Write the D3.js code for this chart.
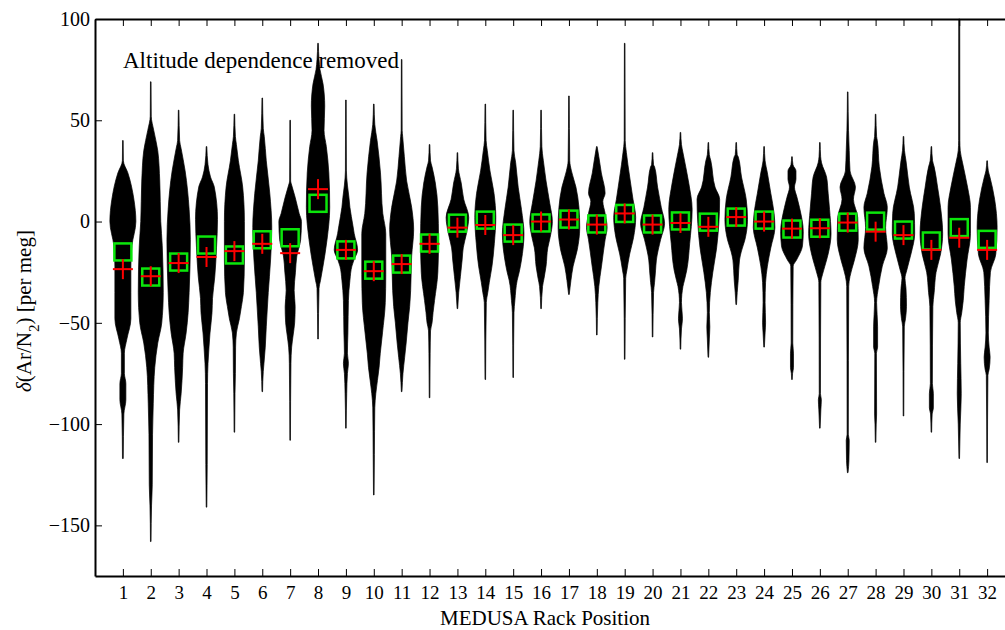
<!DOCTYPE html>
<html><head><meta charset="utf-8">
<script src="https://cdn.jsdelivr.net/npm/d3@7"></script>
<style>
body{margin:0;background:#fff}
svg{display:block}
text{font-family:"Liberation Serif","Times New Roman",serif;fill:#000}
</style>
</head><body>
<svg id="chart" width="1005" height="630"></svg>
<script>
// ---- data ----
const rackPositions = d3.range(1, 33);
const yTicks = [-150, -100, -50, 0, 50, 100];
const medians = [-15, -27.4, -20, -11.6, -16.5, -9, -8, 9, -14, -24, -21, -10.6, -0.8, 0.7, -5.7, -0.7,
                 1.2, -1.2, 4, -1.2, 0.3, -0.3, 2.2, 0.7, -3.7, -3.3, -0.3, 0.2, -4.2, -9.6, -3, -8.8];
const means = [-23.5, -27, -20.5, -17.5, -14.6, -11, -15.6, 16, -14, -24.5, -21, -11, -3, -1.7, -6.7, 0,
               1, -1.5, 4, -1.5, -0.7, -2.6, 2.2, 0, -3.5, -3.3, -0.5, -5, -6.7, -14, -8, -14];
// violin profiles: [value, relative density]
const violins = [
 [[40,0.3],[30,0.5],[24,5],[11,11],[0,13],[-12,9],[-22,8],[-35,8],[-48,8],[-58,4],[-65,1.5],[-75,1.5],[-80,3],[-88,3],[-95,1],[-117,0.4]],
 [[69,0.3],[52,0.5],[45,3],[35,7],[20,9],[0,10],[-12,11.5],[-35,12.5],[-50,11],[-60,7],[-72,4],[-90,2.5],[-105,1.8],[-130,1.5],[-140,0.8],[-158,0.3]],
 [[55,0.3],[40,1],[36,2.5],[25,6.5],[6,10.5],[-9,11.7],[-35,10.5],[-45,9.5],[-55,7.5],[-65,4.5],[-72,4],[-85,2.5],[-93,1],[-109,0.3]],
 [[37,0.3],[28,1.5],[22,4],[17,7.8],[1,11],[-13,10],[-27,8.3],[-38,6],[-45,5.5],[-55,3.5],[-62,2.5],[-70,1.5],[-80,1],[-120,0.7],[-141,0.3]],
 [[53,0.3],[42,1],[38,2],[30,4],[17,8.3],[0,10],[-19,10],[-35,9],[-42,7],[-48,5],[-55,2],[-62,1.2],[-75,1],[-85,0.6],[-104,0.3]],
 [[61,0.3],[46,1],[42,2],[30,4],[14,7.5],[-3,9.5],[-19,8.3],[-35,6],[-52,4],[-62,3],[-70,1.7],[-74,1],[-84,0.3]],
 [[50,0.3],[20,0.5],[18,1.5],[12,5],[4,9],[0,11.3],[-9,10.5],[-17,6.7],[-25,5.3],[-34,4],[-42,5],[-50,4.5],[-56,3],[-62,1.5],[-70,0.8],[-108,0.3]],
 [[88,0.3],[80,1],[75,2],[68,5],[57,6.7],[45,6],[37,8.3],[24,10.8],[7,11.7],[-9,9],[-16,7],[-22,5],[-29,2.5],[-33,1],[-58,0.3]],
 [[60,0.3],[25,0.5],[18,1.5],[12,3],[7,4],[-2,7],[-6,8.3],[-14,11.7],[-19,8],[-22,6],[-29,4],[-39,2.5],[-55,2],[-65,1.5],[-70,2.5],[-75,1.5],[-85,0.8],[-102,0.3]],
 [[58,0.3],[48,1],[40,3.3],[24,6.7],[4,9],[-6,12],[-26,12],[-40,11.5],[-55,8.7],[-65,6.5],[-72,5.3],[-85,2],[-92,1],[-115,0.6],[-135,0.3]],
 [[80,0.3],[45,0.5],[42,1],[32,2.7],[20,5],[7,10],[-4,12],[-17,10],[-34,9],[-42,8],[-50,6.3],[-60,4.5],[-67,3],[-75,1.3],[-84,0.3]],
 [[38,0.3],[30,1],[27,2.5],[19,5.8],[7,8.3],[-9,9],[-25,8.3],[-39,5],[-45,3.5],[-50,2.5],[-54,1],[-65,0.6],[-87,0.3]],
 [[34,0.3],[26,1],[19,3.8],[11,6.3],[2,11.3],[-6,9],[-13,5.8],[-19,4.7],[-27,3],[-35,1.3],[-43,0.3]],
 [[58,0.3],[40,0.8],[35,2],[25,4.7],[14,8.7],[2,10.5],[-11,9],[-22,6.7],[-30,4],[-35,2.5],[-40,1],[-78,0.3]],
 [[55,0.3],[35,0.8],[29,2.5],[17,5],[6,8.3],[-6,10.8],[-19,8.3],[-25,6],[-29,4],[-39,1.7],[-45,0.8],[-77,0.3]],
 [[55,0.3],[37,0.8],[30,2.3],[20,5],[9,8.7],[0,11.3],[-8,9],[-13,6.7],[-22,5],[-28,3],[-32,1.5],[-43,0.3]],
 [[62,0.3],[30,0.8],[25,2.5],[17,7],[7,10],[-3,10.8],[-14,8.3],[-22,4.2],[-29,2],[-36,0.3]],
 [[37,0.3],[32,2],[24,4.5],[14,8.3],[10,6],[4,8.3],[-3,10.3],[-9,8.3],[-22,4.7],[-32,2],[-40,1],[-56,0.3]],
 [[88,0.3],[40,0.5],[34,1.7],[22,5],[11,8.3],[2,11],[-8,8.8],[-16,5],[-24,2.2],[-28,1],[-68,0.3]],
 [[34,0.3],[28,1],[27,2],[17,5],[7,8.7],[-1,12],[-9,8],[-19,3.8],[-24,3],[-30,2],[-35,1],[-57,0.3]],
 [[44,0.3],[38,1],[34,2.5],[19,8.3],[6,11.7],[-11,9.2],[-24,6.3],[-29,4],[-32,2.5],[-40,1],[-48,2],[-53,1],[-63,0.3]],
 [[39,0.3],[33,1],[30,2.5],[17,6.7],[11,11.3],[-1,10.5],[-13,8.3],[-25,4.5],[-35,2],[-45,1],[-52,1.5],[-58,1],[-67,0.3]],
 [[39,0.3],[33,1],[32,2],[22,5.3],[11,10],[1,11.3],[-9,8.7],[-15,5],[-19,3.3],[-29,2],[-35,1],[-41,0.3]],
 [[37,0.3],[30,1],[24,3.3],[14,6.7],[4,10],[-3,10.8],[-13,6.7],[-22,3.3],[-30,1.5],[-40,1],[-50,1.5],[-55,1],[-62,0.3]],
 [[32,0.3],[28,1],[25,4],[21,4],[17,2.5],[12,5],[7,7.5],[-5,11.3],[-12,10.5],[-19,4.5],[-22,1.2],[-60,0.8],[-65,1.5],[-72,1.5],[-75,0.6],[-78,0.3]],
 [[39,0.3],[32,0.8],[29,1.7],[22,6.7],[14,8.3],[6,9.7],[-6,11.2],[-16,8.3],[-22,5],[-26,2.7],[-30,1],[-85,0.6],[-88,1.5],[-93,1],[-102,0.3]],
 [[64,0.3],[45,0.8],[35,1.5],[25,2.3],[17,7.7],[11,5.7],[2,10],[-9,10.5],[-19,6.7],[-27,2.3],[-32,1],[-105,0.6],[-108,1.5],[-118,1.2],[-124,0.3]],
 [[53,0.3],[42,1],[40,1.7],[27,3.7],[14,8.3],[7,11.7],[-3,10],[-13,11.7],[-22,6.7],[-32,3],[-40,1],[-52,2],[-62,2],[-65,0.8],[-95,1],[-100,0.6],[-109,0.3]],
 [[42,0.3],[35,1],[30,2.5],[17,5.8],[4,10.8],[-6,11.2],[-16,7.5],[-24,3.3],[-28,1.5],[-33,2.5],[-42,3],[-48,2],[-52,0.8],[-96,0.3]],
 [[37,0.3],[30,1.2],[27,2.8],[17,6.2],[7,9.2],[-6,11.3],[-16,9.2],[-25,4.7],[-35,2.8],[-42,1.5],[-80,1],[-85,2],[-92,2],[-95,0.8],[-104,0.3]],
 [[100,0.5],[40,0.6],[35,1],[29,3.3],[17,8.3],[7,11.2],[-6,11.2],[-19,7.8],[-32,5],[-39,4],[-45,2.5],[-50,1],[-70,1.5],[-85,2],[-100,1],[-117,0.3]],
 [[30,0.3],[25,1.2],[22,2.8],[11,7.5],[-3,10],[-16,8.7],[-25,3.3],[-39,2],[-55,1.2],[-62,2],[-67,3],[-73,2],[-76,0.8],[-119,0.3]]
];
const annotation = "Altitude dependence removed";
const xTitle = "MEDUSA Rack Position";

// ---- layout ----
const svg = d3.select("#chart");
const mLeft = 95, mTop = 19, mBottom = 576, mRight = 1015;
const x = d3.scaleLinear().domain([0, 33]).range([mLeft, mRight]);
const y = d3.scaleLinear().domain([-175, 100]).range([mBottom, mTop]);
const w = d3.scaleLinear().domain([0, 12]).range([0, 12]);

// violins
const area = d3.area()
  .curve(d3.curveMonotoneY)
  .y(p => y(p[0]))
  .x0(p => -w(p[1]))
  .x1(p => w(p[1]));
svg.append("g").selectAll("path").data(violins).join("path")
  .attr("transform", (d, i) => `translate(${x(rackPositions[i])},0)`)
  .attr("d", area)
  .attr("fill", "#000").attr("stroke", "#000").attr("stroke-width", 0.7);

// median squares
const sq = 17;
svg.append("g").selectAll("rect").data(medians).join("rect")
  .attr("x", (d, i) => x(rackPositions[i]) - sq / 2)
  .attr("y", d => y(d) - sq / 2)
  .attr("width", sq).attr("height", sq)
  .attr("fill", "none").attr("stroke", "#0be60b").attr("stroke-width", 2.5);

// mean plus markers
const arm = 10;
const pg = svg.append("g").attr("stroke", "#ff0000").attr("stroke-width", 2);
pg.selectAll("line.h").data(means).join("line").attr("class", "h")
  .attr("x1", (d, i) => x(rackPositions[i]) - arm).attr("x2", (d, i) => x(rackPositions[i]) + arm)
  .attr("y1", d => y(d)).attr("y2", d => y(d));
pg.selectAll("line.v").data(means).join("line").attr("class", "v")
  .attr("x1", (d, i) => x(rackPositions[i])).attr("x2", (d, i) => x(rackPositions[i]))
  .attr("y1", d => y(d) - arm).attr("y2", d => y(d) + arm);

// axes
function styleAxis(g, size) {
  g.select(".domain").attr("stroke-width", 2);
  g.selectAll(".tick line").attr("stroke-width", 1);
  g.selectAll(".tick text").style("font-family", '"Liberation Serif", serif').style("font-size", size + "px").attr("fill", "#000");
}
svg.append("g").attr("transform", `translate(0,${mBottom})`)
  .call(d3.axisBottom(x).tickValues(rackPositions).tickSize(-7).tickSizeOuter(0).tickPadding(10).tickFormat(d3.format("d")))
  .call(styleAxis, 19);
svg.append("g").attr("transform", `translate(0,${mTop})`)
  .call(d3.axisTop(x).tickValues(rackPositions).tickSize(-7).tickSizeOuter(0).tickFormat(""))
  .call(styleAxis, 19);
svg.append("g").attr("transform", `translate(${mLeft},0)`)
  .call(d3.axisLeft(y).tickValues(yTicks).tickSize(-7).tickSizeOuter(0).tickPadding(5).tickFormat(d3.format("d")))
  .call(styleAxis, 20);

// texts
svg.append("text").attr("x", 123).attr("y", 68).style("font-size", "23px").text(annotation);
svg.append("text").attr("x", 545).attr("y", 625).attr("text-anchor", "middle").style("font-size", "21px").text(xTitle);
const yl = svg.append("text").attr("transform", "translate(31,311) rotate(-90)").attr("text-anchor", "middle").style("font-size", "21px");
yl.append("tspan").style("font-style", "italic").text("δ");
yl.append("tspan").text("(Ar/N");
yl.append("tspan").attr("baseline-shift", "sub").style("font-size", "15px").text("2");
yl.append("tspan").text(")  [per meg]");
</script>
</body></html>
